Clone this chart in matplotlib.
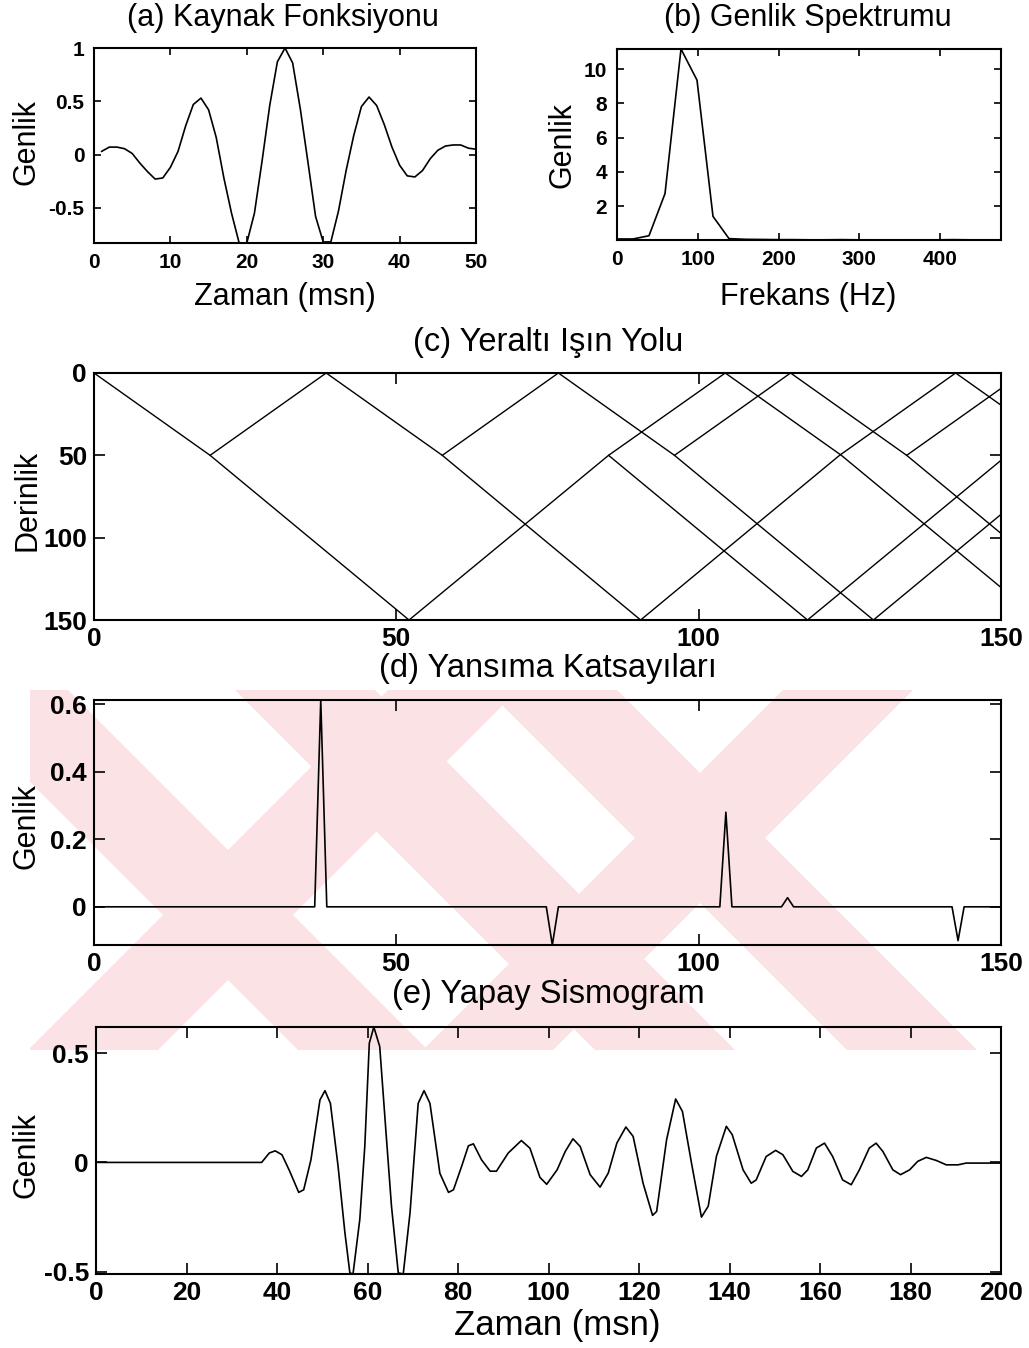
import matplotlib
matplotlib.use("Agg")
import matplotlib.pyplot as plt
from matplotlib.patches import Polygon, Rectangle
from matplotlib.ticker import FixedLocator, FuncFormatter
import numpy as np

plt.rcParams["font.family"] = ["Liberation Sans", "DejaVu Sans"]

# (a) source wavelet, 1 ms samples
wavelet_t = np.arange(1, 51)
wavelet_amp = [0.03, 0.07, 0.07, 0.055, 0.01, -0.08, -0.16, -0.23, -0.22, -0.12,
               0.03, 0.27, 0.47, 0.53, 0.42, 0.16, -0.22, -0.55, -0.83, -0.83,
               -0.55, -0.06, 0.46, 0.87, 1.00, 0.86, 0.43, -0.07, -0.58, -0.82,
               -0.82, -0.53, -0.15, 0.18, 0.45, 0.54, 0.46, 0.28, 0.07, -0.10,
               -0.20, -0.21, -0.15, -0.04, 0.04, 0.08, 0.09, 0.09, 0.06, 0.05]

# (b) amplitude spectrum
spec_df = 19.8
spec_amp = [0.08, 0.08, 0.27, 2.73, 11.18, 9.36, 1.40, 0.10, 0.06, 0.05,
            0.04, 0.04, 0.03, 0.03, 0.04, 0.03, 0.03, 0.02, 0.03, 0.03,
            0.03, 0.04, 0.03, 0.03, 0.03]
spec_f = np.arange(len(spec_amp)) * spec_df

# (c) ray paths: horizontal position and depth of each vertex
ray_x = [
    [0.0, 19.2, 52.1],
    [19.2, 38.4, 57.6, 90.4, 123.3, 142.5, 161.7],
    [57.6, 76.8, 96.0, 128.9, 161.8],
    [52.1, 85.1, 104.4, 123.6, 156.5],
    [85.1, 118.0, 151.0],
    [96.0, 115.2, 134.4, 153.6],
    [134.4, 167.3],
]
ray_z = [
    [0, 50, 150],
    [50, 0, 50, 150, 50, 0, 50],
    [50, 0, 50, 150, 50],
    [150, 50, 0, 50, 150],
    [50, 150, 50],
    [50, 0, 50, 0],
    [50, 150],
]

# (d) reflection coefficients: spike positions and amplitudes
rc_pos = [37.5, 75.8, 104.5, 114.7, 142.9]
rc_amp = [0.612, -0.113, 0.28, 0.027, -0.10]
rc_end = 150.0

# (e) synthetic seismogram
seis_t = [0.5, 36.6, 37.0, 38.3, 39.6, 41.1, 42.8, 44.8, 45.9, 47.5,
          49.5, 50.6, 51.8, 53.5, 55.0, 56.1, 56.8, 58.3, 59.4, 60.4,
          61.4, 62.7, 64.1, 65.3, 66.8, 67.9, 69.4, 71.2, 72.5, 73.8,
          76.0, 77.9, 79.0, 80.8, 82.3, 83.4, 85.2, 87.1, 88.5, 91.1,
          94.0, 95.9, 98.1, 99.6, 101.9, 103.7, 105.4, 107.0, 109.2, 111.4,
          113.2, 115.1, 117.1, 118.7, 120.9, 123.0, 123.9, 126.1, 128.1, 129.6,
          131.6, 133.8, 135.3, 137.1, 139.3, 140.6, 143.0, 144.8, 145.9, 148.1,
          150.2, 151.8, 154.0, 155.9, 157.3, 159.2, 161.0, 162.8, 165.0, 166.9,
          168.7, 170.9, 172.4, 173.9, 176.1, 177.8, 179.8, 181.6, 183.5, 185.7,
          187.9, 190.5, 192.3, 200.0]
seis_amp = [0.0, 0.0, 0.01, 0.043, 0.053, 0.035, -0.04, -0.137, -0.125, 0.012,
            0.286, 0.328, 0.27, -0.018, -0.32, -0.505, -0.51, -0.26, 0.073, 0.545,
            0.619, 0.53, 0.134, -0.2, -0.505, -0.51, -0.23, 0.27, 0.328, 0.27,
            -0.05, -0.137, -0.125, -0.018, 0.076, 0.085, 0.012, -0.04, -0.04, 0.043,
            0.10, 0.065, -0.068, -0.10, -0.034, 0.05, 0.108, 0.073, -0.056, -0.113,
            -0.049, 0.088, 0.162, 0.119, -0.095, -0.242, -0.224, 0.104, 0.29, 0.233,
            -0.003, -0.25, -0.2, 0.027, 0.165, 0.127, -0.034, -0.095, -0.08, 0.027,
            0.055, 0.035, -0.041, -0.064, -0.034, 0.066, 0.088, 0.027, -0.08, -0.102,
            -0.034, 0.066, 0.088, 0.05, -0.034, -0.056, -0.034, 0.005, 0.023, 0.009,
            -0.011, -0.011, -0.003, -0.003]

# background emblem: diagonal bands (page pixels); "\" bands keep x - y,
# "/" bands keep x + y within the given ranges
emblem_back = [(-752, -622), (-455, -315), (-203, -73)]
emblem_fwd = [(1078, 1208), (1473, 1603)]
emblem_box = (30, 690, 990, 1050)  # left, top, right, bottom
emblem_color = "#fbe3e5"

W, H = 1029, 1348
fig = plt.figure(figsize=(W / 100, H / 100), dpi=100)
fig.patch.set_facecolor("white")

# emblem layer beneath all panels
bg = fig.add_axes([0, 0, 1, 1], zorder=-5)
bg.set_xlim(0, W)
bg.set_ylim(H, 0)
bg.axis("off")
x0, y0, x1, y1 = emblem_box
clip = Rectangle((x0, y0), x1 - x0, y1 - y0, transform=bg.transData,
                 facecolor="none", edgecolor="none")
bg.add_patch(clip)
for c1, c2 in emblem_back:
    poly = Polygon([(c1 + y0, y0), (c2 + y0, y0), (c2 + y1, y1), (c1 + y1, y1)],
                   closed=True, facecolor=emblem_color, edgecolor="none")
    bg.add_patch(poly)
    poly.set_clip_path(clip)
for c1, c2 in emblem_fwd:
    poly = Polygon([(c1 - y0, y0), (c2 - y0, y0), (c2 - y1, y1), (c1 - y1, y1)],
                   closed=True, facecolor=emblem_color, edgecolor="none")
    bg.add_patch(poly)
    poly.set_clip_path(clip)

LW = 1.2
TICK_TOP = dict(fontsize=15, fontweight="bold")
TICK_LOW = dict(fontsize=19, fontweight="bold")
LABEL = dict(fontsize=22)
TITLE_TOP = dict(fontsize=22)
TITLE_LOW = dict(fontsize=23.5)


def px_axes(left, top, right, bottom):
    return fig.add_axes([left / W, 1 - bottom / H, (right - left) / W, (bottom - top) / H])


def ftext(x, y, s, **kw):
    fig.text(x / W, 1 - y / H, s, ha="center", va="center", **kw)


def gfmt(v, _pos):
    return "%g" % v


def style(ax, xt, yt, tick_font, ticklen, pad):
    ax.set_facecolor("none")
    for sp in ax.spines.values():
        sp.set_linewidth(1.5)
    ax.xaxis.set_major_locator(FixedLocator(xt))
    ax.yaxis.set_major_locator(FixedLocator(yt))
    ax.xaxis.set_major_formatter(FuncFormatter(gfmt))
    ax.yaxis.set_major_formatter(FuncFormatter(gfmt))
    ax.tick_params(direction="in", top=True, right=True, length=ticklen, width=1.2,
                   pad=pad)
    for lab in ax.get_xticklabels() + ax.get_yticklabels():
        lab.set_fontsize(tick_font["fontsize"])
        lab.set_fontweight(tick_font["fontweight"])


# (a) source wavelet
ax_a = px_axes(94, 48, 476, 243)
ax_a.plot(wavelet_t, wavelet_amp, color="black", lw=LW)
ax_a.set_xlim(0, 50)
ax_a.set_ylim(min(wavelet_amp), max(wavelet_amp))
style(ax_a, [0, 10, 20, 30, 40, 50], [-0.5, 0, 0.5, 1], TICK_TOP, 5, 7)
ftext(283, 18, "(a) Kaynak Fonksiyonu", **TITLE_TOP)
ftext(285, 297, "Zaman (msn)", **LABEL)
ftext(27, 142, "Genlik", rotation=90, **LABEL)

# (b) amplitude spectrum
ax_b = px_axes(617, 49, 1001, 240)
ax_b.plot(spec_f, spec_amp, color="black", lw=LW)
ax_b.set_xlim(0, spec_f[-1])
ax_b.set_ylim(min(spec_amp), max(spec_amp))
style(ax_b, [0, 100, 200, 300, 400], [2, 4, 6, 8, 10], TICK_TOP, 5, 7)
ftext(808, 18, "(b) Genlik Spektrumu", **TITLE_TOP)
ftext(808, 297, "Frekans (Hz)", **LABEL)
ftext(562, 145, "Genlik", rotation=90, **LABEL)

# (c) subsurface ray paths
ax_c = px_axes(94, 373, 1001, 620)
for xs, zs in zip(ray_x, ray_z):
    ax_c.plot(xs, zs, color="black", lw=1.0)
ax_c.set_xlim(0, 150)
ax_c.set_ylim(150, 0)
style(ax_c, [0, 50, 100, 150], [0, 50, 100, 150], TICK_LOW, 8, 5)
ftext(548, 343, "(c) Yeraltı Işın Yolu", **TITLE_LOW)
ftext(27, 500, "Derinlik", rotation=90, **LABEL)

# (d) reflection coefficients
rc_x, rc_y = [0.0], [0.0]
for p, a in zip(rc_pos, rc_amp):
    rc_x += [p - 1.0, p, p + 1.0]
    rc_y += [0.0, a, 0.0]
rc_x.append(rc_end)
rc_y.append(0.0)
ax_d = px_axes(94, 700, 1001, 945)
ax_d.plot(rc_x, rc_y, color="black", lw=LW)
ax_d.set_xlim(0, 150)
ax_d.set_ylim(min(rc_amp), max(rc_amp))
style(ax_d, [0, 50, 100, 150], [0, 0.2, 0.4, 0.6], TICK_LOW, 8, 5)
ftext(548, 668, "(d) Yansıma Katsayıları", **TITLE_LOW)
ftext(27, 826, "Genlik", rotation=90, **LABEL)

# (e) synthetic seismogram
ax_e = px_axes(96, 1027, 1001, 1274)
ax_e.plot(seis_t, seis_amp, color="black", lw=LW)
ax_e.set_xlim(0, 200)
ax_e.set_ylim(min(seis_amp), max(seis_amp))
style(ax_e, list(range(0, 201, 20)), [-0.5, 0, 0.5], TICK_LOW, 8, 5)
ftext(548, 995, "(e) Yapay Sismogram", **TITLE_LOW)
ftext(557, 1325, "Zaman (msn)", fontsize=25)
ftext(27, 1155, "Genlik", rotation=90, **LABEL)

fig.savefig("out.png", dpi=100, facecolor="white")
